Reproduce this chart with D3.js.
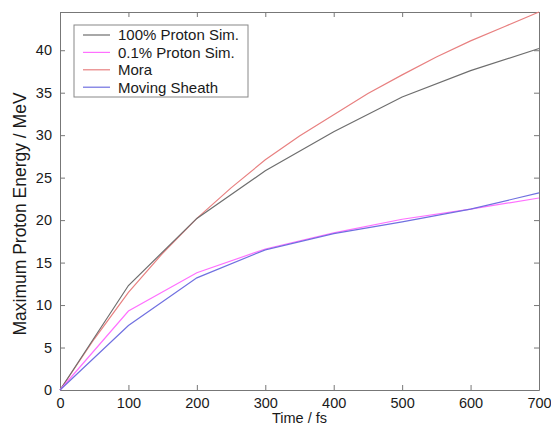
<!DOCTYPE html>
<html>
<head>
<meta charset="utf-8">
<script src="https://cdn.jsdelivr.net/npm/d3@7/dist/d3.min.js"></script>
<style>
  html, body { margin: 0; padding: 0; background: #fff; }
  svg { display: block; font-family: "Liberation Sans", Arial, sans-serif; }
</style>
</head>
<body>
<svg id="chart" width="551" height="428"></svg>
<script>
// Simulation time steps (fs)
const simTimes = [0, 100, 200, 300, 400, 500, 600, 700];
// Maximum proton energy (MeV) from the simulations and the moving-sheath model
const sim100 = [0, 12.3, 20.2, 25.8, 30.4, 34.5, 37.6, 40.2];
const sim01 = [0, 9.3, 13.8, 16.6, 18.5, 20.1, 21.3, 22.6];
const movingSheath = [0, 7.6, 13.2, 16.5, 18.4, 19.8, 21.3, 23.2];
// Mora's analytical model, sampled more finely
const moraTimes = [0, 50, 100, 150, 200, 250, 300, 350, 400, 450, 500, 550, 600, 650, 700];
const mora = [0, 6.0, 11.5, 16.1, 20.2, 23.8, 27.1, 29.9, 32.4, 34.9, 37.1, 39.2, 41.1, 42.8, 44.5];

const xTicks = [0, 100, 200, 300, 400, 500, 600, 700];
const yTicks = [0, 5, 10, 15, 20, 25, 30, 35, 40];

const seriesNames = ["100% Proton Sim.", "0.1% Proton Sim.", "Mora", "Moving Sheath"];
const seriesColors = ["#6e6e6e", "#ff70ff", "#e88080", "#7070e0"];

const W = 551, H = 428;
const margin = { top: 12, right: 12, bottom: 38, left: 60 };
const iw = W - margin.left - margin.right;
const ih = H - margin.top - margin.bottom;

const svg = d3.select("#chart");
const g = svg.append("g").attr("transform", `translate(${margin.left},${margin.top})`);

const x = d3.scaleLinear().domain([0, 700]).range([0, iw]);
const y = d3.scaleLinear().domain([0, 44.5]).range([ih, 0]);

// Axes with inward ticks on all four sides
const tickLen = 5;
const axisColor = "#777";
const axBottom = g.append("g").attr("transform", `translate(0,${ih})`)
  .call(d3.axisBottom(x).tickValues(xTicks).tickSizeInner(-tickLen).tickSizeOuter(0).tickPadding(8));
const axLeft = g.append("g")
  .call(d3.axisLeft(y).tickValues(yTicks).tickSizeInner(-tickLen).tickSizeOuter(0).tickPadding(8));
const axTop = g.append("g")
  .call(d3.axisTop(x).tickValues(xTicks).tickSizeInner(-tickLen).tickSizeOuter(0).tickFormat(""));
const axRight = g.append("g").attr("transform", `translate(${iw},0)`)
  .call(d3.axisRight(y).tickValues(yTicks).tickSizeInner(-tickLen).tickSizeOuter(0).tickFormat(""));

[axBottom, axLeft, axTop, axRight].forEach(a => {
  a.select(".domain").attr("stroke", axisColor).attr("stroke-width", 1);
  a.selectAll(".tick line").attr("stroke", axisColor);
  a.selectAll(".tick text").attr("fill", "#1a1a1a").style("font-size", "14.5px")
    .style("font-family", "'Liberation Sans', Arial, sans-serif");
});
axBottom.selectAll(".tick text").attr("dy", "0.71em");

// Axis titles
svg.append("text")
  .attr("x", margin.left + iw / 2).attr("y", 423)
  .attr("text-anchor", "middle").attr("fill", "#1a1a1a").style("font-size", "14.5px")
  .text("Time / fs");
svg.append("text")
  .attr("transform", "translate(26,214) rotate(-90)")
  .attr("text-anchor", "middle").attr("fill", "#1a1a1a").style("font-size", "17.5px")
  .text("Maximum Proton Energy / MeV");

// Data lines
const line = d3.line().x(d => x(d[0])).y(d => y(d[1]));
const series = [
  d3.zip(simTimes, sim100),
  d3.zip(simTimes, sim01),
  d3.zip(moraTimes, mora),
  d3.zip(simTimes, movingSheath)
];
const drawOrder = [2, 0, 1, 3];
drawOrder.forEach(i => {
  g.append("path").datum(series[i])
    .attr("fill", "none").attr("stroke", seriesColors[i]).attr("stroke-width", 1.2)
    .attr("d", line);
});

// Legend
const lg = svg.append("g").attr("transform", "translate(74,25)");
lg.append("rect").attr("width", 174).attr("height", 72)
  .attr("fill", "#fff").attr("stroke", "#888").attr("stroke-width", 1);
seriesNames.forEach((name, i) => {
  const cy = 10 + i * 17.4;
  lg.append("line").attr("x1", 9).attr("x2", 36).attr("y1", cy).attr("y2", cy)
    .attr("stroke", seriesColors[i]).attr("stroke-width", 1.2);
  lg.append("text").attr("x", 44).attr("y", cy).attr("dy", "0.36em")
    .attr("fill", "#1a1a1a").style("font-size", "15px").text(name);
});
</script>
</body>
</html>
